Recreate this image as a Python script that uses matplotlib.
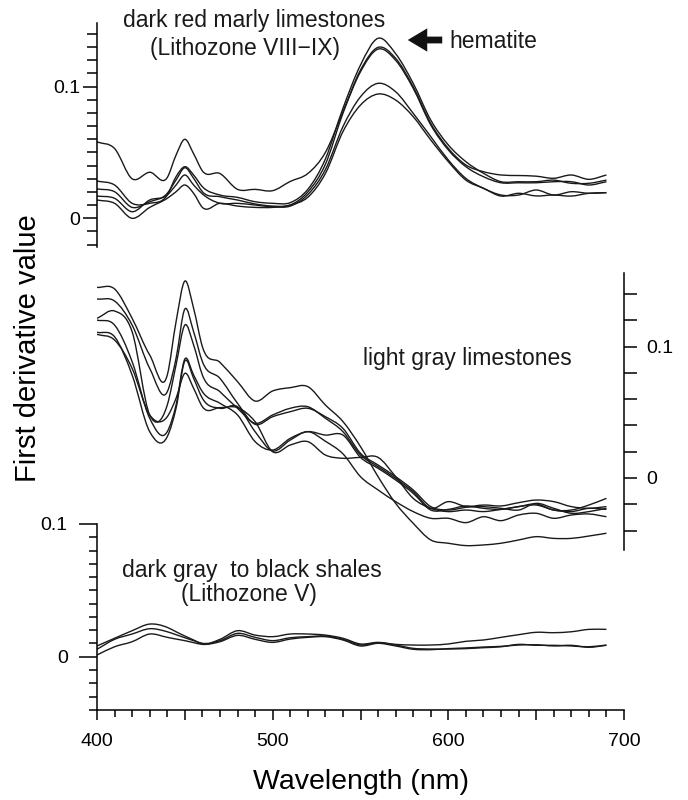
import numpy as np
import matplotlib
matplotlib.use("Agg")
import matplotlib.pyplot as plt
from matplotlib.path import Path
from matplotlib.patches import PathPatch, FancyArrowPatch

plt.rcParams["font.family"] = ["Liberation Sans", "DejaVu Sans"]

W, H = 688, 800

# wavelength grid (nm), denser around the 450 nm band
wavelength = [400, 410, 420, 430, 440, 445, 450, 455, 460, 470, 480, 490, 500,
              510, 520, 530, 540, 550, 560, 570, 580, 590, 600, 610, 620, 630,
              640, 650, 660, 670, 680, 690]

# dark red marly limestones (Lithozone VIII-IX)
red_a = [0.058, 0.053, 0.030, 0.035, 0.031, 0.048, 0.060, 0.049, 0.036, 0.034,
         0.022, 0.022, 0.021, 0.028, 0.034, 0.050, 0.081, 0.1126, 0.1298, 0.1215,
         0.0999, 0.0721, 0.0531, 0.0405, 0.0354, 0.0329, 0.0325, 0.032, 0.0304,
         0.0329, 0.0296, 0.0329]
red_b = [0.0283, 0.0253, 0.0114, 0.0114, 0.0177, 0.0316, 0.0392, 0.0329, 0.024,
         0.0177, 0.0159, 0.0126, 0.0114, 0.0119, 0.022, 0.045, 0.0835, 0.1164,
         0.1367, 0.125, 0.1025, 0.0746, 0.0557, 0.043, 0.0342, 0.0278, 0.0278,
         0.0278, 0.029, 0.0266, 0.0266, 0.029]
red_c = [0.0223, 0.0202, 0.0083, 0.0126, 0.019, 0.0291, 0.0384, 0.0304, 0.0202,
         0.0164, 0.0139, 0.0109, 0.0093, 0.0101, 0.020, 0.041, 0.0797, 0.1113,
         0.1285, 0.120, 0.0987, 0.0709, 0.0519, 0.0392, 0.0316, 0.027, 0.027,
         0.027, 0.0278, 0.0278, 0.0253, 0.0278]
red_d = [0.0169, 0.0152, 0.005, 0.0139, 0.0177, 0.0253, 0.0329, 0.0253, 0.0185,
         0.0114, 0.0114, 0.0101, 0.0088, 0.0093, 0.018, 0.037, 0.0696, 0.0923,
         0.1025, 0.0961, 0.0797, 0.062, 0.0443, 0.0303, 0.0228, 0.0177, 0.0177,
         0.0215, 0.0177, 0.0202, 0.019, 0.0195]
red_e = [0.0139, 0.0114, 0.0, 0.0083, 0.0152, 0.0202, 0.0253, 0.019, 0.0083,
         0.0114, 0.0093, 0.0083, 0.0083, 0.0101, 0.016, 0.034, 0.0658, 0.086,
         0.0944, 0.0898, 0.0772, 0.0595, 0.043, 0.029, 0.0228, 0.0169, 0.019,
         0.017, 0.0177, 0.0169, 0.019, 0.0195]

# light gray limestones
gray_1 = [0.1452, 0.1440, 0.1216, 0.0937, 0.0784, 0.119, 0.150, 0.1292, 0.100,
          0.0881, 0.0734, 0.0586, 0.0663, 0.0688, 0.0696, 0.0556, 0.043, 0.0239,
          0.001, -0.0193, -0.0345, -0.0472, -0.0497, -0.0515, -0.051, -0.0497,
          -0.0472, -0.0447, -0.046, -0.046, -0.0442, -0.0421]
gray_2 = [0.1363, 0.1348, 0.1165, 0.0835, 0.0657, 0.0911, 0.1287, 0.1114, 0.0886,
          0.0759, 0.0569, 0.0409, 0.0467, 0.0505, 0.0531, 0.0467, 0.0378, 0.0188,
          0.0099, 0.001, -0.0091, -0.0218, -0.0244, -0.0223, -0.0206, -0.0213,
          -0.0188, -0.0168, -0.018, -0.0218, -0.0231, -0.0218]
gray_3 = [0.1216, 0.1272, 0.1114, 0.048, 0.0556, 0.0861, 0.1165, 0.1013, 0.0784,
          0.0657, 0.0531, 0.0417, 0.048, 0.0531, 0.0543, 0.0455, 0.0353, 0.0175,
          0.0086, -0.0003, -0.0104, -0.0231, -0.018, -0.0218, -0.0218, -0.0231,
          -0.0244, -0.0193, -0.0231, -0.0269, -0.0256, -0.0231]
gray_4 = [0.1203, 0.1165, 0.0886, 0.0455, 0.0353, 0.0556, 0.0906, 0.0784, 0.0657,
          0.0569, 0.048, 0.0277, 0.0213, 0.0302, 0.0353, 0.0327, 0.0327, 0.0157,
          0.0074, -0.0015, -0.0117, -0.0244, -0.0239, -0.0213, -0.0231, -0.0239,
          -0.0218, -0.0198, -0.0244, -0.0244, -0.0206, -0.0155]
gray_5 = [0.111, 0.1076, 0.0784, 0.0353, 0.0315, 0.0531, 0.0891, 0.0759, 0.0607,
          0.0531, 0.0543, 0.0353, 0.0206, 0.0289, 0.0353, 0.028, 0.0184, 0.001,
          -0.0091, -0.018, -0.0256, -0.0307, -0.0307, -0.034, -0.0295, -0.0325,
          -0.0282, -0.0269, -0.0307, -0.0282, -0.0274, -0.0295]
gray_6 = [0.1094, 0.1051, 0.0835, 0.048, 0.0467, 0.0607, 0.0797, 0.0683, 0.0543,
          0.0536, 0.0536, 0.0429, 0.020, 0.0251, 0.0277, 0.0175, 0.015, 0.0157,
          0.0157, 0.001, -0.0155, -0.0231, -0.0256, -0.0244, -0.0256, -0.0239,
          -0.0218, -0.0206, -0.0244, -0.0256, -0.0231, -0.0239]

# dark gray to black shales (Lithozone V)
shale_1 = [0.0081, 0.0139, 0.0196, 0.0246, 0.0221, 0.0188, 0.0156, 0.0126, 0.0096,
           0.0131, 0.0196, 0.0163, 0.0151, 0.0171, 0.0171, 0.0163, 0.0139, 0.0096,
           0.0108, 0.0093, 0.0088, 0.0088, 0.0096, 0.0116, 0.0126, 0.0146, 0.0166,
           0.0184, 0.0181, 0.0188, 0.0206, 0.0206]
shale_2 = [0.0056, 0.0131, 0.0171, 0.0211, 0.0188, 0.0166, 0.0143, 0.0121, 0.0101,
           0.0121, 0.0176, 0.0146, 0.0121, 0.0143, 0.0151, 0.0156, 0.0131, 0.0088,
           0.0106, 0.0088, 0.0063, 0.0058, 0.0058, 0.0061, 0.0068, 0.0075, 0.0093,
           0.0086, 0.0086, 0.0081, 0.0075, 0.0088]
shale_3 = [0.0013, 0.0075, 0.0113, 0.0171, 0.0146, 0.0133, 0.0121, 0.0106, 0.0093,
           0.0113, 0.0161, 0.0131, 0.0108, 0.0133, 0.0146, 0.0151, 0.0126, 0.0081,
           0.0101, 0.0081, 0.0056, 0.0053, 0.0061, 0.0066, 0.0073, 0.0078, 0.0088,
           0.009, 0.0081, 0.0086, 0.0071, 0.0086]

red_curves = [red_a, red_b, red_c, red_d, red_e]
gray_curves = [gray_1, gray_2, gray_3, gray_4, gray_5, gray_6]
shale_curves = [shale_1, shale_2, shale_3]


def box(left, top, right, bottom):
    # pixel box -> figure fraction rect
    return [left / W, 1 - bottom / H, (right - left) / W, (bottom - top) / H]


def fpos(x, y):
    return x / W, 1 - y / H


def smooth_path(x, y):
    # cubic Hermite through the measured points, written as Bezier segments
    x = np.asarray(x, float)
    y = np.asarray(y, float)
    m = np.gradient(y, x)
    verts = [(x[0], y[0])]
    codes = [Path.MOVETO]
    for i in range(len(x) - 1):
        dx = (x[i + 1] - x[i]) / 3
        verts += [(x[i] + dx, y[i] + m[i] * dx),
                  (x[i + 1] - dx, y[i + 1] - m[i + 1] * dx),
                  (x[i + 1], y[i + 1])]
        codes += [Path.CURVE4] * 3
    return Path(verts, codes)


def draw_curves(ax, curves):
    for y in curves:
        ax.add_patch(PathPatch(smooth_path(wavelength, y), fill=False,
                               edgecolor="#1a1a1a", lw=1.0))


spine_w = 1.1

fig = plt.figure(figsize=(W / 100, H / 100), dpi=100)

# stacked panels share the wavelength scale but overlap vertically
ax_top = fig.add_axes(box(97, 23.4, 624, 247.3))
ax_mid = fig.add_axes(box(97, 273.2, 624, 550.2))
ax_bot = fig.add_axes(box(97, 524, 624, 709.8))

for ax in (ax_top, ax_mid, ax_bot):
    ax.set_facecolor("none")
    ax.set_xlim(400, 700)
    for s in ax.spines.values():
        s.set_visible(False)
        s.set_linewidth(spine_w)

draw_curves(ax_top, red_curves)
draw_curves(ax_mid, gray_curves)
draw_curves(ax_bot, shale_curves)

# top panel: left axis
ax_top.set_ylim(-0.022, 0.148)
ax_top.spines["left"].set_visible(True)
ax_top.set_xticks([])
ax_top.set_yticks([0, 0.1], ["0", "0.1"])
ax_top.set_yticks([v / 100 for v in range(-2, 15) if v not in (0, 10)], minor=True)
ax_top.tick_params(axis="y", which="major", length=10, width=spine_w, pad=2, labelsize=14)
ax_top.tick_params(axis="y", which="minor", length=7, width=spine_w)

# middle panel: right axis
ax_mid.set_ylim(-0.055, 0.156)
ax_mid.spines["right"].set_visible(True)
ax_mid.set_xticks([])
ax_mid.yaxis.tick_right()
ax_mid.set_yticks([0, 0.1], ["0", "0.1"])
ax_mid.set_yticks([v / 100 for v in range(-4, 15, 2) if v not in (0, 10)], minor=True)
ax_mid.tick_params(axis="y", which="both", length=9, width=spine_w, pad=7, labelsize=14)

# bottom panel: left axis and wavelength axis
ax_bot.set_ylim(-0.04, 0.1)
ax_bot.spines["left"].set_visible(True)
ax_bot.spines["bottom"].set_visible(True)
ax_bot.set_yticks([0, 0.1], ["0", "0.1"])
ax_bot.set_yticks([v / 100 for v in range(-4, 10) if v != 0], minor=True)
ax_bot.tick_params(axis="y", which="major", length=13, width=spine_w, pad=8, labelsize=14)
ax_bot.tick_params(axis="y", which="minor", length=6, width=spine_w)
ax_bot.set_xticks([400, 450, 500, 550, 600, 650, 700], ["400", "", "500", "", "600", "", "700"])
ax_bot.set_xticks(range(410, 700, 10), minor=True)
ax_bot.tick_params(axis="x", which="major", length=7, width=spine_w, pad=10, labelsize=14)
ax_bot.tick_params(axis="x", which="minor", length=5, width=spine_w)

# panel captions
ann = dict(fontsize=16.5, color="#1a1a1a")
fig.text(*fpos(254, 20), "dark red marly limestones", ha="center", va="center", **ann)
fig.text(*fpos(245, 48), "(Lithozone VIII\u2212IX)", ha="center", va="center", **ann)
fig.text(*fpos(449, 41), "hematite", ha="left", va="center", **ann)
fig.text(*fpos(363, 359), "light gray limestones", ha="left", va="center", **ann)
fig.text(*fpos(252, 570), "dark gray  to black shales", ha="center", va="center", **ann)
fig.text(*fpos(249, 594), "(Lithozone V)", ha="center", va="center", **ann)

fig.add_artist(FancyArrowPatch(
    fpos(445, 40), fpos(405, 40), transform=fig.transFigure,
    arrowstyle="simple,head_length=1.0,head_width=1.2,tail_width=0.35",
    mutation_scale=14, color="#111111", lw=0))

fig.text(*fpos(361, 782), "Wavelength (nm)", ha="center", va="center", fontsize=20.5)
fig.text(*fpos(28, 348), "First derivative value", ha="center", va="center",
         rotation=90, fontsize=21)

fig.savefig("out.png", dpi=100)
